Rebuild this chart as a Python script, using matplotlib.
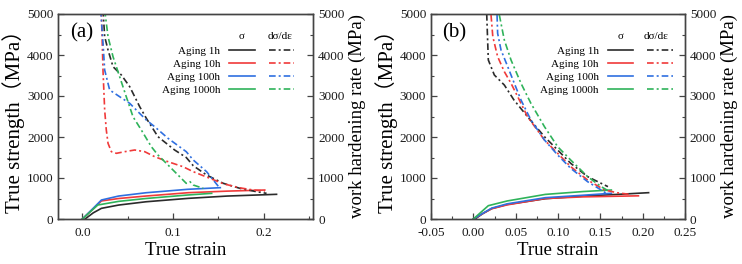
import numpy as np
import matplotlib
matplotlib.use("Agg")
import matplotlib.pyplot as plt
from matplotlib.ticker import MultipleLocator
from matplotlib.lines import Line2D

plt.rcParams["font.family"] = ["Liberation Serif", "Noto Sans CJK SC", "DejaVu Sans"]

labels = ["Aging 1h", "Aging 10h", "Aging 100h", "Aging 1000h"]
colors = ["#2b2b2b", "#f03a3a", "#2f6fe0", "#2fb35a"]

# ---- panel (a): true stress-strain ----
a_strain = [
    [0.003, 0.012, 0.021, 0.04, 0.07, 0.117, 0.16, 0.214],
    [0.0, 0.011, 0.021, 0.04, 0.07, 0.117, 0.16, 0.201],
    [0.0, 0.011, 0.021, 0.04, 0.07, 0.116, 0.152],
    [0.0, 0.009, 0.017, 0.04, 0.07, 0.116, 0.1425],
]
a_stress = [
    [0, 150, 260, 340, 420, 504, 560, 602],
    [0, 230, 440, 500, 560, 642, 680, 707],
    [0, 240, 463, 560, 640, 724, 764],
    [0, 180, 341, 430, 500, 585, 626],
]
# ---- panel (a): work hardening rate ----
a_wh_strain = [
    [0.0228, 0.0246, 0.0283, 0.0338, 0.043, 0.0522, 0.0632, 0.0705, 0.0833,
     0.1017, 0.1145, 0.1222, 0.1369, 0.1553, 0.1736, 0.192, 0.203],
    [0.0209, 0.0228, 0.0246, 0.0264, 0.0283, 0.032, 0.0375, 0.0467, 0.0577,
     0.0687, 0.0797, 0.0944, 0.1109, 0.1222, 0.1406, 0.1553, 0.1736, 0.1883, 0.2011],
    [0.0202, 0.0228, 0.0246, 0.0301, 0.0411, 0.0522, 0.0613, 0.0705, 0.0797,
     0.0944, 0.1145, 0.1222, 0.1369, 0.1443, 0.1516],
    [0.0246, 0.0283, 0.0338, 0.0411, 0.0484, 0.0558, 0.065, 0.076, 0.0833,
     0.0944, 0.1054, 0.1145, 0.1186, 0.1222, 0.1332],
]
a_wh = [
    [5100, 4447, 4122, 3715, 3512, 3227, 2739, 2456, 2008,
     1683, 1500, 1300, 1073, 870, 748, 666, 626],
    [5100, 3600, 2658, 2170, 1846, 1642, 1602, 1642, 1683,
     1642, 1520, 1398, 1276, 1154, 992, 860, 760, 707, 683],
    [5100, 4285, 3634, 3146, 2983, 2821, 2617, 2414, 2251,
     1968, 1642, 1439, 1154, 951, 748],
    [5100, 4447, 3959, 3471, 2983, 2495, 2170, 1764, 1561,
     1317, 1073, 870, 910, 829, 748],
]

# ---- panel (b): true stress-strain ----
b_strain = [
    [0.002, 0.011, 0.0217, 0.04, 0.085, 0.13, 0.17, 0.207],
    [0.0, 0.011, 0.0217, 0.04, 0.085, 0.13, 0.195],
    [0.0, 0.011, 0.0217, 0.04, 0.085, 0.13, 0.163],
    [0.0, 0.009, 0.0177, 0.04, 0.085, 0.13, 0.163],
]
b_stress = [
    [0, 130, 255, 355, 495, 560, 600, 642],
    [0, 130, 250, 345, 500, 540, 565],
    [0, 135, 265, 370, 520, 580, 627],
    [0, 165, 325, 440, 600, 670, 707],
]
# ---- panel (b): work hardening rate ----
b_wh_strain = [
    [0.0158, 0.0177, 0.0248, 0.0366, 0.048, 0.064, 0.084, 0.0996, 0.115, 0.135, 0.147, 0.159],
    [0.0209, 0.023, 0.0287, 0.0366, 0.0445, 0.0524, 0.064, 0.084, 0.0996, 0.115, 0.135, 0.155, 0.17, 0.185],
    [0.028, 0.0287, 0.0327, 0.0406, 0.0484, 0.0563, 0.068, 0.084, 0.0996, 0.115, 0.135, 0.151, 0.159],
    [0.0307, 0.0366, 0.0445, 0.0563, 0.068, 0.084, 0.0996, 0.115, 0.135, 0.151, 0.161],
]
b_wh = [
    [5000, 3878, 3512, 3268, 2902, 2496, 2008, 1683, 1358, 1033, 910, 789],
    [4976, 4447, 3960, 3594, 3309, 2984, 2496, 1927, 1602, 1276, 951, 707, 640, 600],
    [4976, 4528, 4122, 3716, 3309, 2902, 2415, 1927, 1561, 1236, 910, 707, 600],
    [4976, 4366, 3878, 3309, 2821, 2252, 1764, 1439, 1033, 789, 667],
]

dashdot = (0, (4, 1.8, 1.2, 1.8))
spine_c = "#444444"


def style_axis(ax):
    for sp in ax.spines.values():
        sp.set_color(spine_c)
        sp.set_linewidth(1.0)
    ax.tick_params(which="both", direction="in", colors=spine_c,
                   labelcolor="#1a1a1a", labelsize=9.5)
    ax.tick_params(which="major", length=4, width=0.9)
    ax.tick_params(which="minor", length=2, width=0.8)
    ax.tick_params(axis="x", pad=6)
    ax.set_ylim(0, 5000)
    ax.yaxis.set_major_locator(MultipleLocator(1000))
    ax.yaxis.set_minor_locator(MultipleLocator(500))


def draw_panel(ax, strain, stress, wh_strain, wh, tag, xlim, xmajor, xminor, xfmt,
               leg_x, head_x):
    ax2 = ax.twinx()
    for i in range(4):
        ax.plot(strain[i], stress[i], color=colors[i], lw=1.2)
        ax2.plot(wh_strain[i], wh[i], color=colors[i], lw=1.2, linestyle=dashdot)
    ax.set_xlim(*xlim)
    ax.xaxis.set_major_locator(MultipleLocator(xmajor))
    ax.xaxis.set_minor_locator(MultipleLocator(xminor))
    ax.xaxis.set_major_formatter(plt.FormatStrFormatter(xfmt))
    style_axis(ax)
    style_axis(ax2)
    ax.set_xlabel("True strain", fontsize=13.5, labelpad=2)
    ax.set_ylabel("True strength（MPa）", fontsize=15, labelpad=1)
    ax2.set_ylabel("work hardening rate (MPa)", fontsize=13.5, labelpad=3)
    ax.text(0.045, 0.955, tag, transform=ax.transAxes, fontsize=15, va="top")

    # legend: label, solid sample (sigma), dash-dot sample (dsigma/depsilon)
    solid_h = [Line2D([], [], color=c, lw=1.2) for c in colors]
    dd_h = [Line2D([], [], color=c, lw=1.2, linestyle=dashdot) for c in colors]
    ax2.legend(solid_h + dd_h, labels + [""] * 4, ncol=2, markerfirst=False,
               frameon=False, fontsize=8, loc="upper right",
               bbox_to_anchor=(leg_x, 0.845), borderaxespad=0, borderpad=0,
               handlelength=2.3, handletextpad=0.8, columnspacing=0.45,
               labelspacing=0.3)
    ax2.text(head_x[0], 0.888, "σ", transform=ax2.transAxes, fontsize=8,
             ha="center", va="center")
    ax2.text(head_x[1], 0.888, "dσ/dε", transform=ax2.transAxes, fontsize=8,
             ha="center", va="center")


fig = plt.figure(figsize=(7.42, 2.64), dpi=100)
ax_a = fig.add_axes([58.3 / 742, 1 - 219 / 264, 255 / 742, 205 / 264])
ax_b = fig.add_axes([431 / 742, 1 - 219 / 264, 254 / 742, 205 / 264])

draw_panel(ax_a, a_strain, a_stress, a_wh_strain, a_wh, "(a)",
           (-0.0265, 0.2545), 0.1, 0.05, "%.1f", 0.925, (0.72, 0.87))
draw_panel(ax_b, b_strain, b_stress, b_wh_strain, b_wh, "(b)",
           (-0.05, 0.25), 0.05, 0.025, "%.2f", 0.952, (0.745, 0.885))

fig.savefig("out.png", dpi=100)
